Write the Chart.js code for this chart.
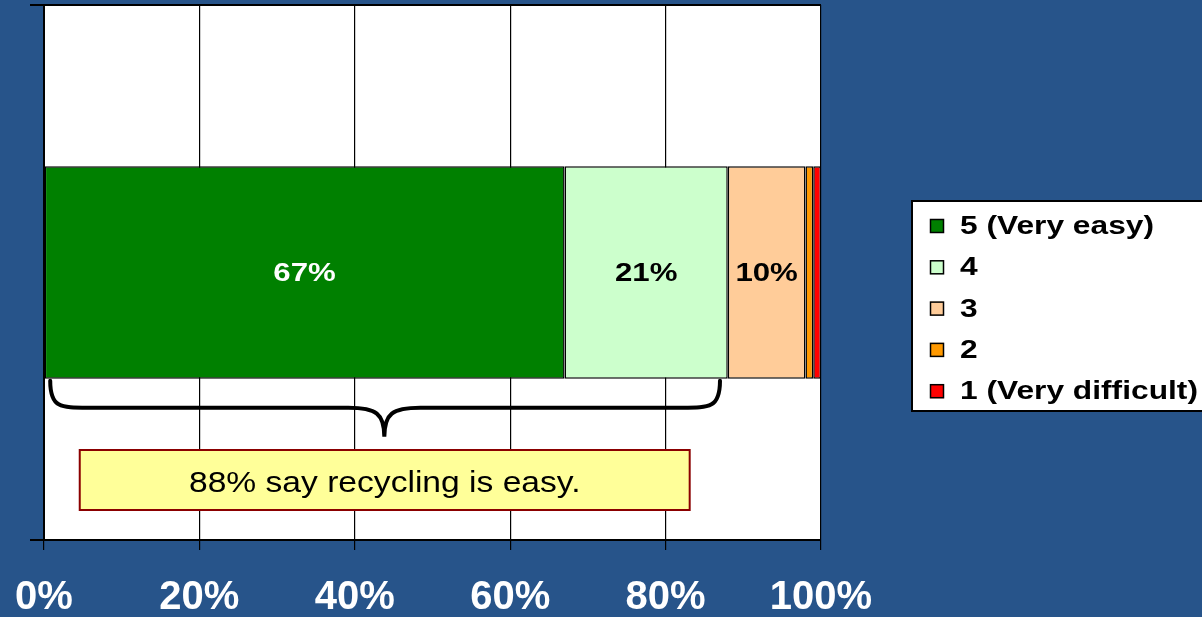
<!DOCTYPE html>
<html>
<head>
<meta charset="utf-8">
<title>Ease of recycling</title>
<script src="https://cdn.jsdelivr.net/npm/chart.js@4"></script>
<style>
  html, body { margin: 0; padding: 0; background: #27548a; }
  #wrap { width: 1202px; height: 617px; }
</style>
</head>
<body>
<div id="wrap"><canvas id="recycleChart" width="1202" height="617"></canvas></div>
<script>
const categories = ['Recycling'];
const ratingLabels = ['5 (Very easy)', '4', '3', '2', '1 (Very difficult)'];
const ratingValues = [67, 21, 10, 1, 1];
const ratingColors = ['#008000', '#ccffcc', '#ffcc99', '#ff9900', '#ff0000'];
const labelColors = ['#ffffff', '#000000', '#000000', '#000000', '#000000'];
const xTicks = [0, 20, 40, 60, 80, 100];
const noteText = '88% say recycling is easy.';

const FONT = "'Liberation Sans', Arial, sans-serif";

// draw text squeezed/stretched sideways around its anchor point
function drawWideText(ctx, text, x, y, font, color, sx, align) {
    ctx.save();
    ctx.font = font;
    ctx.fillStyle = color;
    ctx.textAlign = align || 'center';
    ctx.textBaseline = 'middle';
    ctx.translate(x, y);
    ctx.scale(sx, 1);
    ctx.fillText(text, 0, 0);
    ctx.restore();
}

const plotBackground = {
    id: 'plotBackground',
    beforeDraw(chart) {
        const { ctx, chartArea: a } = chart;
        ctx.save();
        ctx.fillStyle = '#ffffff';
        ctx.fillRect(a.left, a.top, a.right - a.left, a.bottom - a.top);
        ctx.restore();
    }
};

const segmentLabels = {
    id: 'segmentLabels',
    afterDatasetsDraw(chart) {
        const ctx = chart.ctx;
        chart.data.datasets.forEach((ds, i) => {
            const bar = chart.getDatasetMeta(i).data[0];
            if (ds.data[0] < 5) return;
            const cx = (bar.x + bar.base) / 2;
            drawWideText(ctx, ds.data[0] + '%', cx, bar.y + 1, 'bold 26px ' + FONT, labelColors[i], 1.2);
        });
    }
};

const sideLegend = {
    id: 'sideLegend',
    afterDraw(chart) {
        const ctx = chart.ctx;
        const left = 912, top = 201, h = 210;
        ctx.save();
        ctx.fillStyle = '#ffffff';
        ctx.fillRect(left, top, 300, h);
        ctx.strokeStyle = '#000000';
        ctx.lineWidth = 2;
        ctx.strokeRect(left, top, 300, h);
        chart.data.datasets.forEach((ds, i) => {
            const y = 226 + i * 41.3;
            ctx.fillStyle = ds.backgroundColor;
            ctx.fillRect(930, y - 7, 14, 14);
            ctx.lineWidth = 1.5;
            ctx.strokeStyle = '#000000';
            ctx.strokeRect(930.5, y - 6.5, 13, 13);
            drawWideText(ctx, ds.label, 960, y + 1, 'bold 26px ' + FONT, '#000000', 1.22, 'left');
        });
        ctx.restore();
    }
};

// curly brace under the "easy" part of the bar plus the callout box
const easyNote = {
    id: 'easyNote',
    afterDraw(chart) {
        const ctx = chart.ctx;
        const xs = chart.scales.x;
        const bar = chart.getDatasetMeta(0).data[0];
        const barBottom = bar.y + bar.height / 2;
        const x0 = xs.getPixelForValue(0.8);
        const x1 = xs.getPixelForValue(87);
        const mid = xs.getPixelForValue(43.8);
        const yTop = barBottom + 2, yMid = barBottom + 29, yTip = barBottom + 58;
        const r = 28;

        ctx.save();
        ctx.strokeStyle = '#000000';
        ctx.lineWidth = 4;
        ctx.lineCap = 'round';
        ctx.beginPath();
        ctx.moveTo(x0, yTop);
        ctx.bezierCurveTo(x0, yMid, x0 + 10, yMid, x0 + r + 10, yMid);
        ctx.lineTo(mid - r - 8, yMid);
        ctx.bezierCurveTo(mid - 8, yMid, mid, yMid + 6, mid, yTip);
        ctx.bezierCurveTo(mid, yMid + 6, mid + 8, yMid, mid + r + 8, yMid);
        ctx.lineTo(x1 - r - 10, yMid);
        ctx.bezierCurveTo(x1 - 10, yMid, x1, yMid, x1, yTop);
        ctx.stroke();

        const bx0 = xs.getPixelForValue(4.6);
        const bx1 = xs.getPixelForValue(83.1);
        ctx.fillStyle = '#ffff99';
        ctx.fillRect(bx0, 450, bx1 - bx0, 60);
        ctx.strokeStyle = '#8b0000';
        ctx.lineWidth = 2;
        ctx.strokeRect(bx0, 450, bx1 - bx0, 60);
        ctx.restore();

        drawWideText(ctx, noteText, (bx0 + bx1) / 2, 484, '30px ' + FONT, '#000000', 1.12);
    }
};

const ctx = document.getElementById('recycleChart').getContext('2d');
new Chart(ctx, {
    type: 'bar',
    data: {
        labels: categories,
        datasets: ratingLabels.map((label, i) => ({
            label: label,
            data: [ratingValues[i]],
            backgroundColor: ratingColors[i],
            borderColor: '#000000',
            borderWidth: 1.5,
            borderSkipped: false,
            barPercentage: 0.397,
            categoryPercentage: 1
        }))
    },
    options: {
        indexAxis: 'y',
        responsive: false,
        animation: false,
        layout: { padding: { left: 0, top: 5, right: 381, bottom: 0 } },
        plugins: {
            legend: { display: false },
            tooltip: { enabled: false }
        },
        scales: {
            x: {
                stacked: true,
                min: 0,
                max: 100,
                afterBuildTicks(scale) {
                    scale.ticks = xTicks.map(v => ({ value: v }));
                },
                afterFit(scale) {
                    scale.height = 77;
                    // labels may hang over the edges, keep the plot where it is
                    scale.paddingLeft = 0;
                    scale.paddingRight = 0;
                },
                grid: { color: '#000000', lineWidth: 1.2, tickLength: 10, tickColor: '#000000' },
                border: { color: '#000000', width: 2 },
                ticks: {
                    color: '#ffffff',
                    padding: 24,
                    maxRotation: 0,
                    font: { family: FONT, size: 40, weight: 'bold' },
                    callback: v => v + '%'
                }
            },
            y: {
                stacked: true,
                afterFit(scale) { scale.width = 44; },
                grid: { color: '#000000', lineWidth: 2, tickLength: 14, offset: true },
                border: { color: '#000000', width: 2 },
                ticks: { display: false }
            }
        }
    },
    plugins: [plotBackground, segmentLabels, sideLegend, easyNote]
});
</script>
</body>
</html>
